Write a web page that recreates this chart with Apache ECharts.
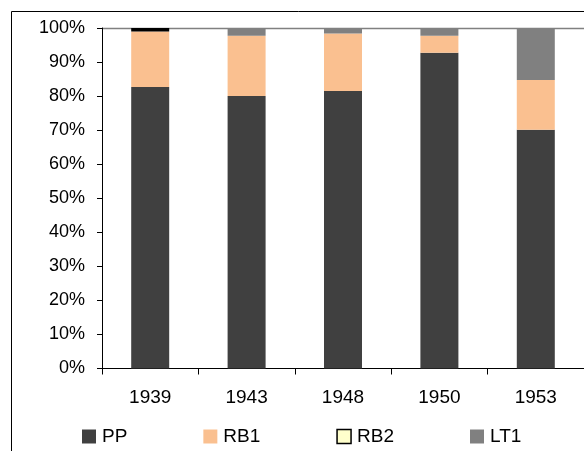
<!DOCTYPE html>
<html><head><meta charset="utf-8">
<script src="https://cdn.jsdelivr.net/npm/echarts@6/dist/echarts.min.js"></script>
<style>html,body{margin:0;padding:0;background:#fff}#c{width:584px;height:451px}</style>
</head><body><div id="c"></div>
<script>
var categories = ['1939','1943','1948','1950','1953'];
var seriesNames = ['PP','RB1','RB2','LT1'];
var PP  = [82.7, 80.0, 81.5, 92.7, 70.1];
var RB1 = [16.3, 17.7, 16.9, 5.0, 14.6];
var RB2 = [1.0, 0, 0, 0, 0];
var LT1 = [0, 2.3, 1.6, 2.3, 15.3];
var yTicks = [0,10,20,30,40,50,60,70,80,90,100];

var colors = {PP:'#404040', RB1:'#FAC090', RB2:'#FFFFCC', LT1:'#808080'};
var values = {PP:PP, RB1:RB1, RB2:RB2, LT1:LT1};
var font = 'Arial, "Liberation Sans", sans-serif';

var chart = echarts.init(document.getElementById('c'), null, {renderer:'canvas'});
var series = seriesNames.map(function(n){
  return {
    name:n, type:'bar', stack:'s', barWidth:38,
    data: values[n].map(function(v){ return v === 0 ? null : v; }),
    itemStyle:{color:colors[n], borderColor: n==='RB2' ? '#000' : 'transparent', borderWidth: n==='RB2' ? 2 : 0},
    emphasis:{disabled:true}
  };
});
chart.setOption({
  animation:false,
  grid:{left:102, top:28, width:483, height:340.5, containLabel:false},
  legend:{
    left:82, top:427, padding:0, itemWidth:14, itemHeight:14, itemGap:76,
    icon:'rect',
    textStyle:{fontFamily:font, fontSize:19, color:'#000', padding:[0,0,0,1]},
    data: seriesNames.map(function(n){
      return {name:n, itemStyle: n==='RB2' ? {color:colors[n], borderColor:'#000', borderWidth:1.5} : {color:colors[n], borderWidth:0}};
    })
  },
  xAxis:{
    type:'category', data:categories,
    axisLine:{lineStyle:{color:'#000', width:1}},
    axisTick:{show:true, length:6, lineStyle:{color:'#000'}},
    axisLabel:{fontFamily:font, fontSize:19, color:'#000', margin:20}
  },
  yAxis:{
    type:'value', min:0, max:100, interval:10,
    axisLine:{show:true, lineStyle:{color:'#000', width:1}},
    axisTick:{show:true, length:5, lineStyle:{color:'#000'}},
    splitLine:{show:false},
    axisLabel:{fontFamily:font, fontSize:18, color:'#000', margin:17,
      formatter:function(v){return yTicks.indexOf(v)>=0 ? v+'%' : '';}}
  },
  graphic:[
    {type:'rect', left:9, top:9, shape:{x:0,y:0,width:620,height:500}, style:{fill:'none', stroke:'#000', lineWidth:1}, silent:true},
    {type:'line', shape:{x1:102, y1:28.5, x2:590, y2:28.5}, style:{stroke:'#808080', lineWidth:1.5}, z:0, silent:true}
  ],
  series: series
});
</script></body></html>
